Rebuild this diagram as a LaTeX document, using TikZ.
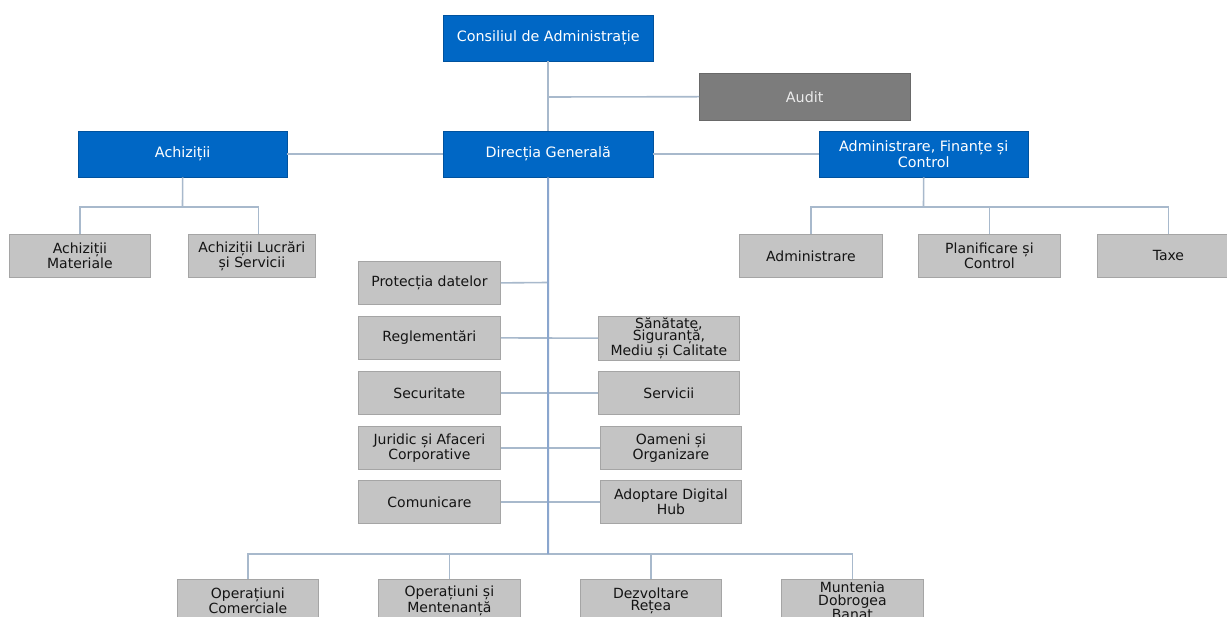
\documentclass[tikz,border=0pt]{standalone}
\usepackage{fontspec}
\setmainfont{DejaVu Sans}
\definecolor{bblue}{RGB}{0,103,197}
\definecolor{gfill}{RGB}{196,196,196}
\definecolor{gline}{RGB}{165,165,165}
\definecolor{afill}{RGB}{124,124,124}
\definecolor{conn}{RGB}{168,185,204}
\definecolor{mainconn}{RGB}{138,166,206}
\definecolor{gtext}{RGB}{20,20,20}
\tikzset{
  bluebox/.style={rectangle, fill=bblue, draw=bblue!80!black, line width=0.4pt, text=white, align=center,
    minimum width=210pt, minimum height=46pt, inner sep=1pt, anchor=north west,
    font=\fontsize{14.3}{16}\selectfont},
  auditbox/.style={rectangle, fill=afill, draw=afill!85!black, line width=0.4pt, text=white!92!black, align=center,
    minimum width=211pt, minimum height=47pt, inner sep=1pt, anchor=north west,
    font=\fontsize{14.3}{16}\selectfont},
  graybox/.style={rectangle, fill=gfill, draw=gline, line width=0.8pt, text=gtext, align=center,
    minimum width=142pt, minimum height=43pt, inner sep=1pt, anchor=north west,
    font=\fontsize{14}{12.5}\selectfont},
  link/.style={draw=conn, line width=1.6pt},
  mainlink/.style={draw=mainconn, line width=2pt},
}
\begin{document}
\begin{tikzpicture}[x=1pt,y=-1pt]
\useasboundingbox (0,0) rectangle (1227,617);
\clip (0,0) rectangle (1227,617);
\fill[white] (0,0) rectangle (1227,617);

% junction points
\coordinate (jaud) at (548,97);
\coordinate (jpd) at (548,282.5);
\coordinate (jbot) at (548,554);
\coordinate (jach) at (182.5,207);
\coordinate (jafc) at (923.5,207);

% top boxes
\node[bluebox] (ca) at (443,15) {Consiliul de Administrație};
\node[auditbox] (au) at (699,73) {Audit};
\node[bluebox] (dg) at (443,131) {Direcția Generală};
\node[bluebox, minimum width=209pt] (ac) at (78,131) {Achiziții};
\node[bluebox, minimum width=209pt] (afc) at (819,131) {Administrare, Finanțe și\\Control};

% achizitii children
\node[graybox, minimum width=141pt] (am) at (9,234) {Achiziții\\Materiale};
\node[graybox, minimum width=127pt] (al) at (188,234) {Achiziții Lucrări\\și Servicii};

% afc children
\node[graybox, minimum width=143pt] (adm) at (739,234) {Administrare};
\node[graybox] (pc) at (918,234) {Planificare și\\Control};
\node[graybox] (tx) at (1097,234) {Taxe};

% middle left
\node[graybox] (pd) at (358,261) {Protecția datelor};
\node[graybox] (rg) at (358,316) {Reglementări};
\node[graybox] (sc) at (358,371) {Securitate};
\node[graybox] (jr) at (358,426) {Juridic și Afaceri\\Corporative};
\node[graybox] (cm) at (358,480) {Comunicare};

% middle right
\node[graybox, minimum width=141pt] (ss) at (598,316) {Sănătate,\\Siguranță,\\Mediu și Calitate};
\node[graybox, minimum width=141pt] (sv) at (598,371) {Servicii};
\node[graybox, minimum width=141pt] (om) at (600,426) {Oameni și\\Organizare};
\node[graybox, minimum width=141pt] (ad) at (600,480) {Adoptare Digital\\Hub};

% bottom
\node[graybox, minimum width=141pt] (oc) at (177,579) {Operațiuni\\Comerciale};
\node[graybox, minimum width=142pt] (om2) at (378,579) {Operațiuni și\\Mentenanță};
\node[graybox, minimum width=141pt] (dr) at (580,579) {Dezvoltare\\Rețea};
\node[graybox, minimum width=142pt] (mdb) at (781,579) {Muntenia\\Dobrogea\\Banat};

% connectors
\draw[link] (ca.south) -- (dg.north);
\draw[link] (jaud) -- (au.west);
\draw[link] (ac.east) -- (dg.west);
\draw[link] (dg.east) -- (afc.west);

\draw[link] (ac.south) -- (jach);
\draw[link] (am.north) |- (jach) -| ([xshift=6.5pt]al.north);

\draw[link] (afc.south) -- (jafc);
\draw[link] (adm.north) |- (jafc) -| (tx.north);
\draw[link] (pc.north) -- (pc.north |- jafc);

\draw[link] (pd.east) -- (jpd);
\draw[link] (rg.east) -- (ss.west);
\draw[link] (sc.east) -- (sv.west);
\draw[link] (jr.east) -- (om.west);
\draw[link] (cm.east) -- (ad.west);

\draw[link] (oc.north) |- (jbot) -| (mdb.north);
\draw[link] (om2.north) -- (om2.north |- jbot);
\draw[link] (dr.north) -- (dr.north |- jbot);

\draw[mainlink] (dg.south) -- (jbot);
\end{tikzpicture}
\end{document}
